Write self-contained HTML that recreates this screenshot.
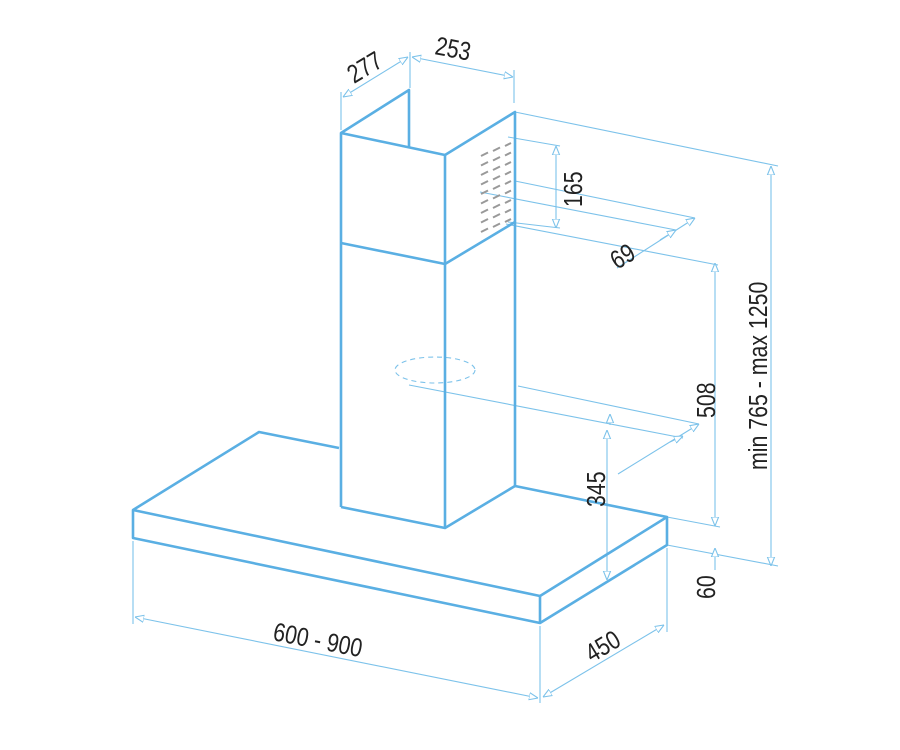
<!DOCTYPE html>
<html><head><meta charset="utf-8"><style>
html,body{margin:0;padding:0;background:#fff;width:900px;height:750px;overflow:hidden}
text{font-family:"Liberation Sans",sans-serif;font-size:26px;fill:#222}
</style></head><body>
<svg width="900" height="750" viewBox="0 0 900 750" xmlns="http://www.w3.org/2000/svg">
<defs>
<marker id="a" viewBox="0 0 10 10" refX="10" refY="5" markerWidth="9" markerHeight="9" orient="auto-start-reverse" markerUnits="userSpaceOnUse">
<path d="M0,1 L10,5 L0,9 Z" fill="#fff" stroke="#7cc2ea" stroke-width="1.2"/>
</marker>
</defs>
<g stroke="#7cc2ea" stroke-width="1.1" fill="none">
<line x1="341" y1="130" x2="341" y2="92"/>
<line x1="410" y1="88" x2="410" y2="52"/>
<line x1="343" y1="97" x2="408" y2="57" marker-start="url(#a)" marker-end="url(#a)"/>
<line x1="514" y1="103" x2="514" y2="70"/>
<line x1="412" y1="57" x2="513" y2="77" marker-start="url(#a)" marker-end="url(#a)"/>
<line x1="508" y1="137" x2="560" y2="146"/>
<line x1="508" y1="222" x2="560" y2="228"/>
<line x1="556" y1="146" x2="556" y2="228" marker-start="url(#a)" marker-end="url(#a)"/>
<line x1="515" y1="181" x2="695" y2="218"/>
<line x1="480" y1="192" x2="676" y2="230"/>
<line x1="617" y1="268" x2="695" y2="218" marker-end="url(#a)"/>
<line x1="660" y1="240" x2="676" y2="230" marker-end="url(#a)"/>
<line x1="515" y1="112" x2="778" y2="166"/>
<line x1="771" y1="166" x2="771" y2="566" marker-start="url(#a)" marker-end="url(#a)"/>
<line x1="506" y1="224" x2="718" y2="265"/>
<line x1="715" y1="263" x2="715" y2="526" marker-start="url(#a)" marker-end="url(#a)"/>
<line x1="667" y1="517" x2="720" y2="527"/>
<line x1="667" y1="545" x2="778" y2="566"/>
<line x1="715" y1="548" x2="715" y2="570" marker-start="url(#a)"/>
<ellipse cx="435" cy="370" rx="40" ry="13" stroke-dasharray="5,4"/>
<line x1="409" y1="385" x2="683" y2="438"/>
<line x1="518" y1="386" x2="699" y2="424"/>
<line x1="618" y1="474" x2="699" y2="424" marker-end="url(#a)"/>
<line x1="670" y1="442" x2="683" y2="436" marker-end="url(#a)"/>
<line x1="607" y1="430" x2="607" y2="580" marker-start="url(#a)" marker-end="url(#a)"/>
<line x1="610" y1="425" x2="610" y2="414" marker-end="url(#a)"/>
<line x1="133" y1="541" x2="133" y2="624"/>
<line x1="540" y1="626" x2="540" y2="703"/>
<line x1="135" y1="617" x2="538" y2="698" marker-start="url(#a)" marker-end="url(#a)"/>
<line x1="667" y1="548" x2="667" y2="632"/>
<line x1="543" y1="697" x2="664" y2="625" marker-start="url(#a)" marker-end="url(#a)"/>
</g>
<g stroke="#999" stroke-width="2">
<line x1="481" y1="156" x2="488" y2="152.5"/><line x1="481" y1="165.5" x2="488" y2="162"/><line x1="481" y1="175" x2="488" y2="171.5"/><line x1="481" y1="184.5" x2="488" y2="181"/><line x1="481" y1="194" x2="488" y2="190.5"/><line x1="481" y1="203.5" x2="488" y2="200"/><line x1="481" y1="213" x2="488" y2="209.5"/><line x1="481" y1="222.5" x2="488" y2="219"/><line x1="481" y1="232" x2="488" y2="228.5"/>
<line x1="493" y1="151" x2="500" y2="147.5"/><line x1="493" y1="160.5" x2="500" y2="157"/><line x1="493" y1="170" x2="500" y2="166.5"/><line x1="493" y1="179.5" x2="500" y2="176"/><line x1="493" y1="189" x2="500" y2="185.5"/><line x1="493" y1="198.5" x2="500" y2="195"/><line x1="493" y1="208" x2="500" y2="204.5"/><line x1="493" y1="217.5" x2="500" y2="214"/><line x1="493" y1="227" x2="500" y2="223.5"/>
<line x1="505" y1="146" x2="511" y2="143"/><line x1="505" y1="155.5" x2="511" y2="152.5"/><line x1="505" y1="165" x2="511" y2="162"/><line x1="505" y1="174.5" x2="511" y2="171.5"/><line x1="505" y1="184" x2="511" y2="181"/><line x1="505" y1="193.5" x2="511" y2="190.5"/><line x1="505" y1="203" x2="511" y2="200"/><line x1="505" y1="212.5" x2="511" y2="209.5"/><line x1="505" y1="222" x2="511" y2="219"/>
</g>
<g stroke="#5aafe3" stroke-width="2.6" fill="none" stroke-linejoin="round">
<polyline points="341,507 341,133 409,90 409,147"/>
<polyline points="341,133 445,155 515,112 515,486"/>
<line x1="445" y1="155" x2="445" y2="528"/>
<polyline points="341,243 445,264 515,222"/>
<polyline points="341,507 445,528 515,486"/>
<polyline points="339,448 259,432 133,510 133,538 540,623 667,545 667,517 515,486"/>
<polyline points="133,510 540,596 667,517"/>
<line x1="540" y1="596" x2="540" y2="623"/>
</g>
<text transform="translate(354,84) rotate(-31) scale(0.82,1)">277</text>
<text transform="translate(434,54) rotate(11) scale(0.82,1)">253</text>
<text transform="translate(582,207) rotate(-90) scale(0.82,1)">165</text>
<text transform="translate(617,270) rotate(-31) scale(0.82,1)">69</text>
<text transform="translate(767,470) rotate(-90) scale(0.82,1)">min 765 - max 1250</text>
<text transform="translate(715,418) rotate(-90) scale(0.82,1)">508</text>
<text transform="translate(605,507) rotate(-90) scale(0.82,1)">345</text>
<text transform="translate(715,599) rotate(-90) scale(0.82,1)">60</text>
<text transform="translate(272,640) rotate(11) scale(0.82,1)">600 - 900</text>
<text transform="translate(592,663) rotate(-31) scale(0.82,1)">450</text>
</svg>
</body></html>
